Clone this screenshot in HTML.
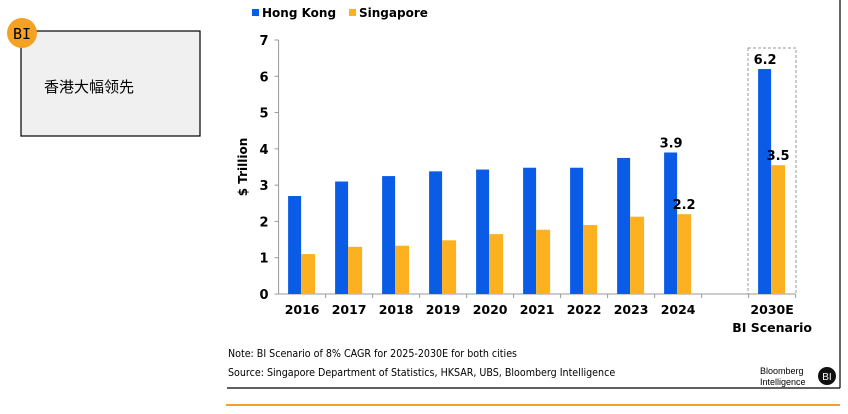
<!DOCTYPE html>
<html><head><meta charset="utf-8"><style>
body{margin:0;width:848px;height:414px;background:#fff;overflow:hidden;font-family:"Liberation Sans","Noto Sans CJK SC",sans-serif;}
</style></head><body>
<svg width="848" height="414" style="position:absolute;left:0;top:0">
<rect x="21" y="31" width="179" height="105" fill="#f0f0f0" stroke="#000" stroke-width="1.2"/>
<text x="44" y="92" font-size="15" font-family="Liberation Sans,Noto Sans CJK SC,sans-serif">香港大幅领先</text>
<circle cx="22" cy="33" r="15" fill="#f4a124"/>
<text x="22" y="39" font-size="15" text-anchor="middle" font-family="DejaVu Sans Mono,monospace">BI</text>
<line x1="840" y1="0" x2="840" y2="388" stroke="#000" stroke-width="1.2"/>
<line x1="227" y1="388" x2="840" y2="388" stroke="#000" stroke-width="1.2"/>
<line x1="226" y1="405" x2="840" y2="405" stroke="#f4a124" stroke-width="2"/>
<rect x="252" y="9" width="7" height="7" fill="#0a5ce6"/>
<text x="262" y="17" font-size="12" font-weight="bold" font-family="DejaVu Sans,sans-serif">Hong Kong</text>
<rect x="349" y="9" width="7" height="7" fill="#fbb120"/>
<text x="359" y="17" font-size="12" font-weight="bold" font-family="DejaVu Sans,sans-serif">Singapore</text>
<text transform="translate(247,167) rotate(-90)" text-anchor="middle" font-size="12" font-weight="bold" font-family="DejaVu Sans,sans-serif">$ Trillion</text>
<rect x="748" y="48" width="48" height="246" fill="none" stroke="#999" stroke-dasharray="3,2"/>
<g id="plot" font-family="DejaVu Sans,sans-serif"></g>
<text x="228" y="357" font-size="10.6" font-family="DejaVu Sans Condensed,DejaVu Sans,sans-serif">Note: BI Scenario of 8% CAGR for 2025-2030E for both cities</text>
<text x="228" y="376" font-size="10.6" font-family="DejaVu Sans Condensed,DejaVu Sans,sans-serif">Source: Singapore Department of Statistics, HKSAR, UBS, Bloomberg Intelligence</text>
<text x="760" y="374" font-size="9">Bloomberg</text>
<text x="760" y="385" font-size="9">Intelligence</text>
<circle cx="827" cy="376" r="9" fill="#111"/>
<text x="827" y="380" font-size="10" fill="#fff" text-anchor="middle">BI</text>
</svg>
<script>
const categories=["2016","2017","2018","2019","2020","2021","2022","2023","2024","","2030E"];
const hkValues=[2.7,3.1,3.25,3.38,3.43,3.48,3.48,3.75,3.9,null,6.2];
const sgValues=[1.1,1.3,1.33,1.48,1.65,1.77,1.9,2.13,2.2,null,3.55];
const yTicks=[0,1,2,3,4,5,6,7];
const hkLabels={8:"3.9",10:"6.2"};
const sgLabels={8:"2.2",10:"3.5"};
const NS="http://www.w3.org/2000/svg";
const g=document.getElementById('plot');
const x0=278.6,band=47,yBase=294,yTop=40,yMax=7;
const y=v=>yBase-(v/yMax)*(yBase-yTop);
const xc=i=>x0+band*(i+0.5);
function mk(t,a){const e=document.createElementNS(NS,t);for(const k in a)e.setAttribute(k,a[k]);g.appendChild(e);return e;}
let ax=mk('line',{x1:x0,y1:yTop,x2:x0,y2:yBase,stroke:'#999'});


let bx=mk('line',{x1:x0,y1:yBase,x2:x0+band*categories.length,y2:yBase,stroke:'#999'});


yTicks.forEach(t=>{
 mk('line',{x1:x0-4,y1:y(t),x2:x0,y2:y(t),stroke:'#999'});
 const tx=mk('text',{x:x0-10,y:y(t)+5,'text-anchor':'end','font-size':13,'font-weight':'bold'});
 tx.textContent=t;
 
 
});
categories.forEach((c,i)=>{
 mk('line',{x1:x0+band*(i+1),y1:yBase,x2:x0+band*(i+1),y2:yBase+4,stroke:'#999'});
 if(c){const tx=mk('text',{x:xc(i),y:314,'text-anchor':'middle','font-size':12.5,'font-weight':'bold'});
 tx.textContent=c;
 
 }
 if(hkValues[i]!=null){
  const r=mk('rect',{x:xc(i)-14,y:y(hkValues[i]),width:13,height:yBase-y(hkValues[i]),fill:'#0a5ce6'});
  
  
 }
 if(sgValues[i]!=null){
  const r=mk('rect',{x:xc(i)-1,y:y(sgValues[i]),width:14,height:yBase-y(sgValues[i]),fill:'#fbb120'});
  
  
 }
 if(hkLabels[i]){const t=mk('text',{x:xc(i)-7,y:y(hkValues[i])-5,'text-anchor':'middle','font-size':13,'font-weight':'bold'});t.textContent=hkLabels[i];
  
  }
 if(sgLabels[i]){const t=mk('text',{x:xc(i)+6,y:y(sgValues[i])-5,'text-anchor':'middle','font-size':13,'font-weight':'bold'});t.textContent=sgLabels[i];
  
  }
});
const bs=mk('text',{x:xc(10),y:332,'text-anchor':'middle','font-size':12.5,'font-weight':'bold'});
bs.textContent='BI Scenario';


</script>
</body></html>
